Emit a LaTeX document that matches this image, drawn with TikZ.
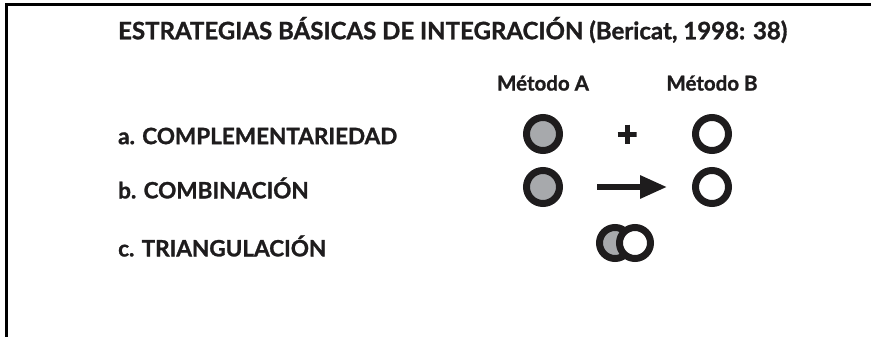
\documentclass[tikz,border=0pt]{standalone}
\usepackage{fontspec}
\setmainfont{Lato}[BoldFeatures={FakeBold=1.2}]
\usetikzlibrary{arrows.meta}
\definecolor{grisA}{RGB}{167,169,172}
\definecolor{tinta}{RGB}{30,28,29}

\tikzset{
  metodo/.style={circle, draw=tinta, line width=7pt, minimum size=33pt, inner sep=0pt},
  metA/.style={metodo, fill=grisA},
  metB/.style={metodo, fill=white},
  rotulo/.style={anchor=west, inner sep=0pt, font=\fontsize{22.5}{26}\selectfont\bfseries, text=tinta},
  cruz/.style={minimum size=19pt, inner sep=0pt, path picture={
      \draw[tinta, line width=5pt] (path picture bounding box.north) -- (path picture bounding box.south)
        (path picture bounding box.west) -- (path picture bounding box.east);}},
  flecha/.style={line width=6pt, draw=tinta, -{Triangle[length=27pt,width=22pt]}}
}

\begin{document}
\begin{tikzpicture}[x=1pt, y=-1pt]
    \useasboundingbox (0,0) rectangle (871,337);
    \draw[line width=3pt] (6.5,337) -- (6.5,4.5) -- (871,4.5);

    \node[rotulo, font=\fontsize{24}{28}\selectfont\bfseries] (titulo) at (118,30) {ESTRATEGIAS BÁSICAS DE INTEGRACIÓN (Bericat, 1998: 38)};
    \node[rotulo, anchor=center, font=\fontsize{20.5}{24}\selectfont\bfseries] (nomA) at (543,83) {Método A};
    \node[rotulo, anchor=center, font=\fontsize{20.5}{24}\selectfont\bfseries] (nomB) at (712,83) {Método B};

    \node[rotulo] (compl) at (118,136) {a. COMPLEMENTARIEDAD};
    \node[rotulo] (combi) at (118,188) {b. COMBINACIÓN};
    \node[rotulo] (trian) at (118,246) {c. TRIANGULACIÓN};

    % a. complementariedad
    \node[metA] (aA) at (543,134) {};
    \node[metB] (aB) at (712,134) {};
    \node[cruz] (mas) at (627,134) {};

    % b. combinacion
    \node[metA] (bA) at (543,187) {};
    \node[metB] (bB) at (712,187) {};
    \draw[flecha, shorten <=34pt, shorten >=25pt] (bA) -- (bB);

    % c. triangulacion
    \node[metA, minimum size=31pt] (cA) at (615,243) {};
    \node[metB, minimum size=31pt] (cB) at (635,243) {};
  \end{tikzpicture}
\end{document}
